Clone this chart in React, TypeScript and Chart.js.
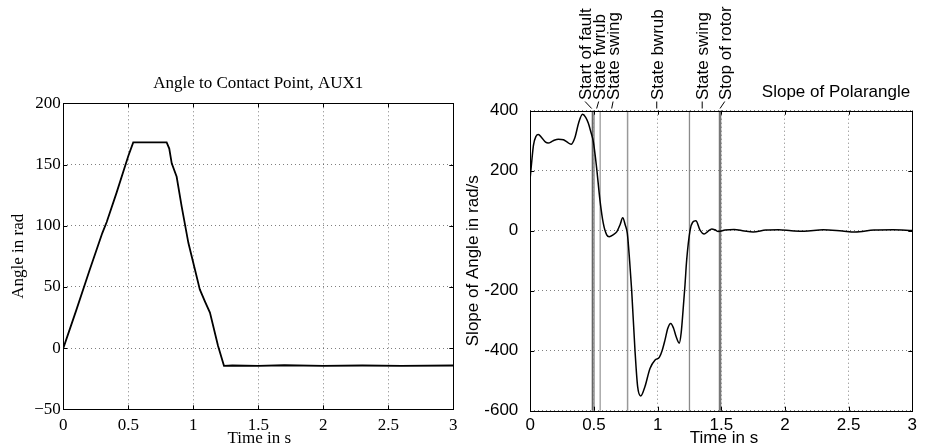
import React, { useEffect, useRef } from "react";
import { Chart, registerables } from "chart.js";

Chart.register(...registerables);

// ---------- data ----------
const angleTime = [0, 0.1, 0.2, 0.3, 0.334, 0.41, 0.5, 0.538, 0.6, 0.7, 0.795, 0.815, 0.834, 0.872, 0.91, 0.962, 1.013, 1.05, 1.09, 1.128, 1.19, 1.236, 1.3, 1.5, 1.7, 2.0, 2.3, 2.6, 3.0];
const angleValue = [0, 31, 63, 94, 103, 127, 157, 168, 168, 168, 168, 163, 151, 140, 116, 86, 64, 48, 38, 29, 2, -14.5, -14.2, -14.6, -14.0, -14.6, -14.2, -14.5, -14.2];

const slopeTime = [0, 0.01, 0.025, 0.045, 0.063, 0.09, 0.12, 0.14, 0.18, 0.22, 0.26, 0.29, 0.32, 0.35, 0.38, 0.41, 0.435, 0.456, 0.475, 0.495, 0.52, 0.547, 0.573, 0.6, 0.62, 0.65, 0.68, 0.705, 0.726, 0.745, 0.762, 0.78, 0.796, 0.822, 0.843, 0.867, 0.9, 0.94, 0.98, 1.013, 1.035, 1.058, 1.08, 1.103, 1.125, 1.145, 1.17, 1.185, 1.2, 1.215, 1.228, 1.255, 1.275, 1.3, 1.333, 1.365, 1.395, 1.425, 1.45, 1.477, 1.53, 1.6, 1.68, 1.75, 1.85, 1.95, 2.05, 2.15, 2.3, 2.45, 2.55, 2.7, 2.85, 3.0];
const slopeValue = [180, 225, 285, 315, 321, 310, 295, 292, 300, 305, 303, 295, 288, 310, 360, 388, 378, 358, 330, 297, 213, 102, 25, -14, -20, -14, -3, 20, 43, 20, -9, -100, -198, -398, -520, -551, -520, -459, -431, -422, -400, -364, -325, -309, -325, -353, -375, -340, -264, -180, -98, 2, 28, 33, 2, -11, -2, 6, 3, -3, 2, 4, -1, -4, 2, 3, 0, -2, 3, -1, -4, 2, 3, 1];

const timeTicks = [0, 0.5, 1, 1.5, 2, 2.5, 3];
const angleTicks = [-50, 0, 50, 100, 150, 200];
const slopeTicks = [-600, -400, -200, 0, 200, 400];

const eventNames = ["Start of fault", "State fwrub", "State swing", "State bwrub", "State swing", "Stop of rotor"];
const eventTimes = [0.488, 0.5, 0.549, 0.764, 1.25, 1.49];
const eventLabelTimes = [0.43, 0.537, 0.65, 0.993, 1.35, 1.527];
const eventLeaderEnds = [0.482, 0.521, 0.639, 0.993, 1.35, 1.49];

const leftTitle = "Angle to Contact Point, AUX1";
const leftYTitle = "Angle in rad";
const rightTitle = "Slope of Polarangle";
const rightYTitle = "Slope of Angle in rad/s";
const xTitle = "Time in s";

// ---------- styles ----------
const SERIF = "17px 'Liberation Serif', 'Times New Roman', serif";
const SANS = "17px 'Liberation Sans', Arial, sans-serif";
const GRID = "rgba(0,0,0,0.5)";
const eventColors = ["#666666", "#8a8a8a", "#aaaaaa", "#999999", "#8a8a8a", "#777777"];
const eventWidths = [1.5, 1.5, 1.5, 1.5, 1.3, 2.5];
const LEFT_W = 475; // left canvas: 0..475
const RIGHT_X = 455; // right canvas: 455..927 (canvases are transparent and may overlap)

function frame(chart: any, xt: number[], yt: number[]) {
  const { ctx, chartArea: a, scales } = chart;
  ctx.save();
  ctx.strokeStyle = "#000";
  ctx.lineWidth = 1;
  ctx.setLineDash([]);
  ctx.strokeRect(Math.round(a.left) + 0.5, Math.round(a.top) + 0.5, Math.round(a.right - a.left), Math.round(a.bottom - a.top));
  const tl = 4;
  ctx.beginPath();
  xt.forEach((v) => {
    const px = Math.round(scales.x.getPixelForValue(v)) + 0.5;
    ctx.moveTo(px, a.bottom);
    ctx.lineTo(px, a.bottom - tl);
    ctx.moveTo(px, a.top);
    ctx.lineTo(px, a.top + tl);
  });
  yt.forEach((v) => {
    const py = Math.round(scales.y.getPixelForValue(v)) + 0.5;
    ctx.moveTo(a.left, py);
    ctx.lineTo(a.left + tl, py);
    ctx.moveTo(a.right, py);
    ctx.lineTo(a.right - tl, py);
  });
  ctx.stroke();
  ctx.restore();
}

function rotatedText(ctx: any, text: string, x: number, y: number, align: string, baseline: string) {
  ctx.save();
  ctx.translate(x, y);
  ctx.rotate(-Math.PI / 2);
  ctx.textAlign = align;
  ctx.textBaseline = baseline;
  ctx.fillText(text, 0, 0);
  ctx.restore();
}

function makeOptions(
  xt: number[],
  yt: number[],
  yMin: number,
  yMax: number,
  font: any,
  yFmt: (v: number) => string,
  yWidth: number,
  xHeight: number,
  padding: any,
  xPad: number,
  yPad: number
) {
  return {
    responsive: false,
    animation: false,
    events: [],
    layout: { padding },
    plugins: { legend: { display: false }, title: { display: false }, tooltip: { enabled: false } },
    scales: {
      x: {
        type: "linear",
        min: 0,
        max: 3,
        afterBuildTicks: (s: any) => {
          s.ticks = xt.map((v) => ({ value: v }));
        },
        afterFit: (s: any) => {
          s.height = xHeight;
        },
        ticks: {
          autoSkip: false,
          maxRotation: 0,
          padding: xPad,
          color: "#000",
          font,
          callback: (v: any) => String(v),
        },
        grid: { color: GRID, lineWidth: 1, drawTicks: false },
        border: { display: false, dash: [1, 3] },
      },
      y: {
        type: "linear",
        min: yMin,
        max: yMax,
        afterBuildTicks: (s: any) => {
          s.ticks = yt.map((v) => ({ value: v }));
        },
        afterFit: (s: any) => {
          s.width = yWidth;
        },
        ticks: {
          autoSkip: false,
          padding: yPad,
          color: "#000",
          font,
          callback: (v: any) => yFmt(Number(v)),
        },
        grid: { color: GRID, lineWidth: 1, drawTicks: false },
        border: { display: false, dash: [1, 3] },
      },
    },
  };
}

export default function App() {
  const leftRef = useRef<HTMLCanvasElement | null>(null);
  const rightRef = useRef<HTMLCanvasElement | null>(null);

  useEffect(() => {
    const serifFont = { family: "'Liberation Serif', 'Times New Roman', serif", size: 17 };
    const sansFont = { family: "'Liberation Sans', Arial, sans-serif", size: 17 };

    const leftPlugin = {
      id: "leftDecor",
      afterDraw(chart: any) {
        const { ctx, chartArea: a } = chart;
        frame(chart, timeTicks, angleTicks);
        ctx.save();
        ctx.fillStyle = "#000";
        ctx.font = SERIF;
        ctx.textAlign = "center";
        ctx.textBaseline = "alphabetic";
        const cx = (a.left + a.right) / 2;
        ctx.fillText(leftTitle, cx, 88);
        ctx.fillText(xTitle, cx + 1, 443);
        rotatedText(ctx, leftYTitle, 19, (a.top + a.bottom) / 2, "center", "middle");
        ctx.restore();
      },
    };

    const rightPlugin = {
      id: "rightDecor",
      beforeDatasetsDraw(chart: any) {
        const { ctx, chartArea: a, scales } = chart;
        ctx.save();
        ctx.setLineDash([]);
        eventTimes.forEach((t, i) => {
          const px = scales.x.getPixelForValue(t);
          ctx.strokeStyle = eventColors[i];
          ctx.lineWidth = eventWidths[i];
          ctx.beginPath();
          ctx.moveTo(px, a.top);
          ctx.lineTo(px, a.bottom);
          ctx.stroke();
        });
        ctx.restore();
      },
      afterDraw(chart: any) {
        const { ctx, chartArea: a, scales } = chart;
        frame(chart, timeTicks, slopeTicks);
        ctx.save();
        ctx.fillStyle = "#000";
        ctx.strokeStyle = "#000";
        ctx.lineWidth = 1;
        ctx.font = SANS;
        eventNames.forEach((name, i) => {
          const cx = scales.x.getPixelForValue(eventLabelTimes[i]);
          const ex = scales.x.getPixelForValue(eventLeaderEnds[i]);
          rotatedText(ctx, name, cx + 6, 100, "left", "alphabetic");
          ctx.beginPath();
          ctx.moveTo(cx, 101.5);
          ctx.lineTo(ex, 108.5);
          ctx.stroke();
        });
        ctx.textAlign = "center";
        ctx.textBaseline = "alphabetic";
        ctx.fillText(rightTitle, 836 - RIGHT_X, 97);
        ctx.fillText(xTitle, 724 - RIGHT_X, 443);
        rotatedText(ctx, rightYTitle, 473 - RIGHT_X, (a.top + a.bottom) / 2, "center", "middle");
        ctx.restore();
      },
    };

    const left = new Chart(leftRef.current as HTMLCanvasElement, {
      type: "line",
      data: {
        datasets: [
          {
            data: angleTime.map((t, i) => ({ x: t, y: angleValue[i] })),
            borderColor: "#000",
            borderWidth: 1.8,
            pointRadius: 0,
            fill: false,
            tension: 0,
          },
        ],
      },
      options: makeOptions(
        timeTicks,
        angleTicks,
        -50,
        200,
        serifFont,
        (v) => (v < 0 ? "\u2212" + Math.abs(v) : String(v)),
        63.3,
        36.7,
        { left: 0, top: 103.3, right: LEFT_W - 453.3, bottom: 0 },
        6,
        2.5
      ) as any,
      plugins: [leftPlugin],
    });

    const right = new Chart(rightRef.current as HTMLCanvasElement, {
      type: "line",
      data: {
        datasets: [
          {
            data: slopeTime.map((t, i) => ({ x: t, y: slopeValue[i] })),
            borderColor: "#000",
            borderWidth: 1.5,
            pointRadius: 0,
            fill: false,
            cubicInterpolationMode: "monotone",
          },
        ],
      },
      options: makeOptions(
        timeTicks,
        slopeTicks,
        -600,
        400,
        sansFont,
        (v) => String(v),
        530.3 - RIGHT_X,
        35.3,
        { left: 0, top: 110.7, right: 927 - 912.3, bottom: 0 },
        4,
        12
      ) as any,
      plugins: [rightPlugin],
    });

    return () => {
      left.destroy();
      right.destroy();
    };
  }, []);

  return (
    <div style={{ position: "fixed", left: 0, top: 0, width: 927, height: 446, background: "#fff" }}>
      <canvas ref={leftRef} width={LEFT_W} height={446} style={{ position: "absolute", left: 0, top: 0, width: LEFT_W, height: 446 }} />
      <canvas ref={rightRef} width={927 - RIGHT_X} height={446} style={{ position: "absolute", left: RIGHT_X, top: 0, width: 927 - RIGHT_X, height: 446 }} />
    </div>
  );
}
